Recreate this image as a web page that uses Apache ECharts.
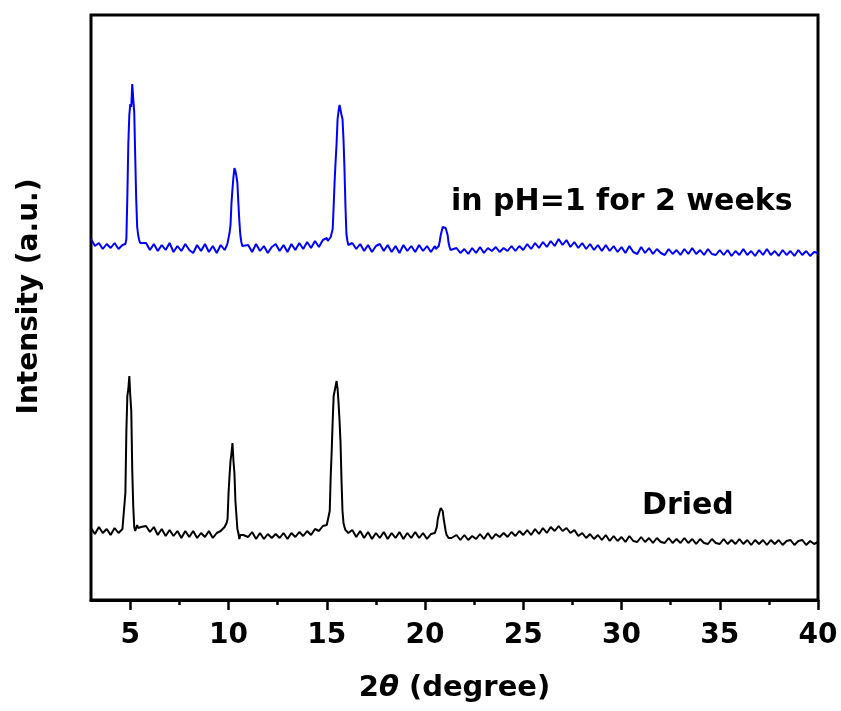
<!DOCTYPE html>
<html>
<head>
<meta charset="utf-8">
<script src="https://cdn.jsdelivr.net/npm/echarts@6/dist/echarts.min.js"></script>
<style>
  html, body { margin: 0; padding: 0; background: #fff; }
  #chart { width: 841px; height: 711px; }
</style>
</head>
<body>
<div id="chart"></div>
<script>
// 2theta sampling (degree), finer around the reflections
const twoTheta = [
  3.0, 3.2, 3.4, 3.6, 3.8, 4.0, 4.2, 4.4, 4.6,
  4.65, 4.7, 4.75, 4.8, 4.85, 4.9, 4.95, 5.0, 5.05, 5.1, 5.15, 5.2, 5.25, 5.3, 5.35, 5.4, 5.45, 5.5, 5.55, 5.6,
  5.8, 6.0, 6.2, 6.4, 6.6, 6.8, 7.0, 7.2, 7.4, 7.6, 7.8, 8.0, 8.2, 8.4, 8.6, 8.8, 9.0, 9.2, 9.4, 9.6, 9.8,
  9.85, 9.9, 9.95, 10.0, 10.05, 10.1, 10.15, 10.2, 10.25, 10.3, 10.35, 10.4, 10.45, 10.5, 10.55, 10.6, 10.65, 10.7, 10.75, 10.8,
  11.0, 11.2, 11.4, 11.6, 11.8, 12.0, 12.2, 12.4, 12.6, 12.8, 13.0, 13.2, 13.4, 13.6, 13.8, 14.0, 14.2, 14.4, 14.6, 14.8, 15.0,
  15.05, 15.1, 15.15, 15.2, 15.25, 15.3, 15.35, 15.4, 15.45, 15.5, 15.55, 15.6, 15.65, 15.7, 15.75, 15.8, 15.85, 15.9, 15.95, 16.0, 16.05, 16.1,
  16.3, 16.5, 16.7, 16.9, 17.1, 17.3, 17.5, 17.7, 17.9, 18.1, 18.3, 18.5, 18.7, 18.9, 19.1, 19.3, 19.5, 19.7, 19.9, 20.1, 20.3, 20.5,
  20.55, 20.6, 20.65, 20.7, 20.75, 20.8, 20.85, 20.9, 20.95, 21.0, 21.05, 21.1, 21.15, 21.2, 21.25, 21.3, 21.35, 21.4,
  21.6, 21.8, 22.0, 22.2, 22.4, 22.6, 22.8, 23.0,
  23.2, 23.4, 23.6, 23.8, 24.0, 24.2, 24.4, 24.6, 24.8, 25.0,
  25.2, 25.4, 25.6, 25.8, 26.0, 26.2, 26.4, 26.6, 26.8, 27.0,
  27.2, 27.4, 27.6, 27.8, 28.0, 28.2, 28.4, 28.6, 28.8, 29.0,
  29.2, 29.4, 29.6, 29.8, 30.0, 30.2, 30.4, 30.6, 30.8, 31.0,
  31.2, 31.4, 31.6, 31.8, 32.0, 32.2, 32.4, 32.6, 32.8, 33.0,
  33.2, 33.4, 33.6, 33.8, 34.0, 34.2, 34.4, 34.6, 34.8, 35.0,
  35.2, 35.4, 35.6, 35.8, 36.0, 36.2, 36.4, 36.6, 36.8, 37.0,
  37.2, 37.4, 37.6, 37.8, 38.0, 38.2, 38.4, 38.6, 38.8, 39.0,
  39.2, 39.4, 39.6, 39.8, 40.0
];

// intensity (a.u.), sample soaked in pH=1 for 2 weeks (offset trace)
const acidIntensity = [
  362, 355, 358, 352, 357, 353, 358, 352, 356,
  356, 354, 357, 362, 405, 458, 486, 497, 494, 517, 502, 489, 445, 402, 374, 366, 361, 358, 360, 356,
  358, 351, 357, 350, 356, 351, 358, 349, 355, 350, 357, 351, 348, 356, 350, 357, 349, 355, 348, 356, 351,
  353, 355, 358, 363, 368, 376, 398, 412, 424, 433, 430, 425, 418, 398, 380, 366, 359, 355, 357, 353,
  356, 349, 357, 350, 355, 348, 354, 357, 350, 356, 349, 357, 351, 358, 352, 359, 353, 360, 354, 361, 363,
  360, 362, 361, 364, 366, 372, 395, 420, 440, 458, 482, 490, 496, 498, 486, 482, 462, 432, 395, 367, 360, 356,
  358, 352, 357, 350, 356, 349, 355, 357, 350, 356, 349, 355, 348, 356, 350, 355, 349, 356, 350, 355, 349, 355,
  352, 354, 353, 355, 360, 366, 370, 374, 376, 375, 373, 371, 366, 358, 354, 351, 352, 350,
  353, 348, 352, 347, 353, 348, 354, 348,
  353, 350, 354, 349, 353, 350, 355, 350, 355, 351,
  357, 352, 358, 353, 359, 354, 360, 355, 362, 356,
  361, 354, 359, 353, 358, 352, 357, 351, 356, 350,
  356, 350, 355, 349, 354, 348, 355, 349, 347, 354,
  348, 353, 347, 352, 348, 346, 352, 347, 351, 346,
  352, 347, 353, 347, 351, 346, 352, 347, 346, 351,
  346, 351, 345, 350, 346, 352, 346, 350, 345, 351,
  346, 352, 346, 350, 345, 351, 346, 350, 345, 351,
  346, 350, 345, 349, 348
];

// intensity (a.u.), dried sample
const driedIntensity = [
  73, 67, 74, 68, 72, 66, 73, 68, 72,
  70, 74, 108, 170, 205, 212, 225, 205, 190, 130, 95, 74, 70, 72, 76, 73, 75, 71, 74, 72,
  75, 69, 74, 66, 72, 65, 71, 65, 70, 63, 70, 64, 70, 63, 68, 64, 70, 63, 68, 70, 74,
  76, 78, 82, 108, 125, 140, 148, 158, 140, 128, 100, 86, 72, 68, 62, 66, 64, 68, 66, 67,
  64, 69, 62, 68, 62, 67, 63, 67, 63, 68, 62, 68, 64, 69, 65, 70, 66, 72, 70, 75, 76,
  76, 78, 90, 125, 150, 180, 205, 210, 215, 220, 212, 198, 180, 158, 120, 90, 78, 74, 71, 73, 70, 68,
  71, 64, 70, 63, 69, 62, 68, 63, 69, 62, 68, 63, 69, 62, 68, 63, 69, 63, 68, 62, 67, 68,
  68, 74, 82, 86, 90, 93, 94, 90, 82, 76, 70, 66, 65, 63, 65, 64, 63, 65,
  66, 61, 66, 61, 65, 62, 67, 62,
  68, 62, 67, 64, 68, 64, 69, 65, 70, 66,
  71, 66, 72, 67, 73, 68, 74, 70, 75, 70,
  73, 68, 71, 65, 68, 63, 67, 62, 66, 61,
  66, 60, 65, 60, 64, 59, 65, 60, 59, 64,
  59, 63, 58, 63, 59, 58, 63, 58, 62, 58,
  63, 58, 62, 57, 62, 58, 57, 62, 58, 57,
  62, 57, 61, 57, 62, 57, 61, 56, 61, 57,
  61, 56, 61, 57, 61, 56, 60, 61, 56, 60,
  61, 56, 60, 57, 59
];

const majorTicks = [5, 10, 15, 20, 25, 30, 35, 40];
const minorTicks = [7.5, 12.5, 17.5, 22.5, 27.5, 32.5, 37.5];

const seriesNames = ['in pH=1 for 2 weeks', 'Dried'];

const FONT = '"DejaVu Sans", sans-serif';

const chart = echarts.init(document.getElementById('chart'));

const acidData = twoTheta.map((x, i) => [x, acidIntensity[i]]);
const driedData = twoTheta.map((x, i) => [x, driedIntensity[i]]);

const option = {
  backgroundColor: '#fff',
  animation: false,
  grid: {
    left: 91, right: 23, top: 15, bottom: 111,
    show: true,
    borderColor: '#000',
    borderWidth: 3,
    backgroundColor: 'transparent'
  },
  xAxis: [
    {
      type: 'value',
      min: 3,
      max: 40,
      position: 'bottom',
      name: '{a|2}{b|θ}{a| (degree)}',
      nameLocation: 'middle',
      nameGap: 74,
      nameTextStyle: {
        rich: {
          a: { fontFamily: FONT, fontWeight: 'bold', fontSize: 29, color: '#000' },
          b: { fontFamily: FONT, fontWeight: 'bold', fontStyle: 'italic', fontSize: 29, color: '#000' }
        }
      },
      axisLine: { show: true, lineStyle: { color: '#000', width: 3 } },
      axisTick: {
        show: true,
        customValues: majorTicks,
        length: 10,
        lineStyle: { color: '#000', width: 2.5 }
      },
      axisLabel: {
        customValues: majorTicks,
        margin: 22,
        fontFamily: FONT,
        fontWeight: 'bold',
        fontSize: 28,
        color: '#000'
      },
      splitLine: { show: false }
    },
    {
      type: 'value',
      min: 3,
      max: 40,
      position: 'bottom',
      axisLine: { show: false },
      axisTick: {
        show: true,
        customValues: minorTicks,
        length: 5,
        lineStyle: { color: '#000', width: 2.5 }
      },
      axisLabel: { show: false },
      splitLine: { show: false }
    }
  ],
  yAxis: {
    type: 'value',
    min: 1,
    max: 586,
    name: 'Intensity (a.u.)',
    nameLocation: 'middle',
    nameGap: 47,
    nameTextStyle: {
      fontFamily: FONT,
      fontWeight: 'bold',
      fontSize: 28,
      color: '#000',
      padding: [0, 0, 0, 22]
    },
    axisLine: { show: false },
    axisTick: { show: false },
    axisLabel: { show: false },
    splitLine: { show: false }
  },
  series: [
    {
      name: seriesNames[0],
      type: 'line',
      data: acidData,
      showSymbol: false,
      lineStyle: { color: '#0000ff', width: 2 },
      itemStyle: { color: '#0000ff' }
    },
    {
      name: seriesNames[1],
      type: 'line',
      data: driedData,
      showSymbol: false,
      lineStyle: { color: '#000000', width: 2 },
      itemStyle: { color: '#000000' }
    }
  ],
  graphic: [
    {
      type: 'text',
      left: 451,
      top: 187,
      style: {
        text: seriesNames[0],
        font: 'bold 30px ' + FONT,
        fill: '#000'
      }
    },
    {
      type: 'text',
      left: 642,
      top: 491,
      style: {
        text: seriesNames[1],
        font: 'bold 30px ' + FONT,
        fill: '#000'
      }
    }
  ]
};

chart.setOption(option);
</script>
</body>
</html>
